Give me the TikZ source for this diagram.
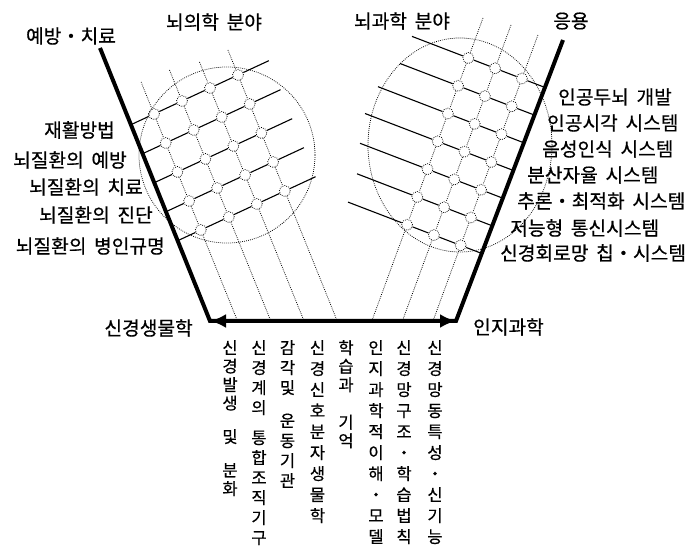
\documentclass[tikz,border=0pt]{standalone}
\usepackage{fontspec}
\newfontfamily\kr[FakeBold=0.6]{Noto Sans CJK KR}
\usetikzlibrary{arrows.meta,calc}
\newcommand\kvfont[1]{\kr\fontsize{16.5}{#1}\selectfont}
\newcommand\kdot{\makebox[1em][c]{・}}
\newcommand\ksp{\hspace{0.4em}}
\begin{document}
\begin{tikzpicture}[x=1pt,y=-1pt,
  bigline/.style={line width=4pt, line join=miter},
  gridline/.style={line width=1.1pt},
  dotline/.style={line width=0.75pt, dash pattern=on 0.8pt off 1.2pt},
  gnode/.style={circle, draw, line width=0.75pt, dash pattern=on 0.8pt off 1.2pt, fill=white, minimum size=11pt, inner sep=0pt},
  lab/.style={font=\kr\fontsize{19.2}{21}\selectfont, inner sep=0pt},
  vcol/.style={anchor=north, align=center, inner sep=0pt}]
\useasboundingbox (0,0) rectangle (691,553);

% ---- left lattice ----
\foreach \i in {0,...,3}{\foreach \j in {0,...,4}{
  \node[gnode] (L\i\j) at ($(154,114)+\i*(28,-13)+\j*(11.7,29)$) {};}}
\foreach \j in {0,...,4}{
  \coordinate (LS\j) at ($(130.9,124.7)+\j*(11.7,29)$);
  \coordinate (LE\j) at ($(268.8,60.7)+\j*(11.7,29)$);
  \draw[gridline] (LS\j) -- (L0\j) -- (L1\j) -- (L2\j) -- (L3\j) -- (LE\j);}
\coordinate (LT0) at (141.1,82); \coordinate (LT1) at (169.5,70);
\coordinate (LT2) at (199.5,62); \coordinate (LT3) at (227.9,50);
\coordinate (LB0) at (237.5,321); \coordinate (LB1) at (270.8,321);
\coordinate (LB2) at (304,321); \coordinate (LB3) at (337.2,321);
\foreach \i in {0,...,3}{
  \draw[dotline] (LT\i) -- (L\i0) -- (L\i1) -- (L\i2) -- (L\i3) -- (L\i4) -- (LB\i);}
\draw[dotline] (227,155) circle [radius=88pt];

% ---- right lattice ----
\foreach \i in {0,...,2}{\foreach \j in {0,...,6}{
  \node[gnode] (R\i\j) at ($(468.3,58)+\i*(26.8,10.3)+\j*(-10.2,27.8)$) {};}}
\coordinate (RS0) at (412,36.4);  \coordinate (RE0) at (544.8,87.4);
\coordinate (RS1) at (400,63.5);  \coordinate (RE1) at (534.2,115.0);
\coordinate (RS2) at (378,86.7);  \coordinate (RE2) at (523.6,142.7);
\coordinate (RS3) at (365,113.5); \coordinate (RE3) at (512.9,170.3);
\coordinate (RS4) at (360,143.3); \coordinate (RE4) at (502.3,198.0);
\coordinate (RS5) at (357,173.8); \coordinate (RE5) at (491.7,225.6);
\coordinate (RS6) at (348,202.1); \coordinate (RE6) at (481.1,253.2);
\foreach \j in {0,...,6}{
  \draw[gridline] (RS\j) -- (R0\j) -- (R1\j) -- (R2\j) -- (RE\j);}
\coordinate (RT0) at (483,18); \coordinate (RT1) at (511,25); \coordinate (RT2) at (537.9,35);
\coordinate (RB0) at (371.8,321); \coordinate (RB1) at (402.4,321); \coordinate (RB2) at (433,321);
\foreach \i in {0,...,2}{
  \draw[dotline] (RT\i) -- (R\i0) -- (R\i1) -- (R\i2) -- (R\i3) -- (R\i4) -- (R\i5) -- (R\i6) -- (RB\i);}
\draw[dotline] (460,145) ellipse [x radius=92pt, y radius=107pt];

% ---- thick frame ----
\coordinate (TL) at (100,48); \coordinate (BL) at (210,321);
\coordinate (BR) at (456,321); \coordinate (TR) at (563,40);
\draw[bigline] (TL) -- (BL) -- (BR) -- (TR);
\draw[bigline, {Latex[length=16pt,width=14pt]}-{Latex[length=16pt,width=14pt]}] (BL) -- (BR);

% ---- top labels ----
\node[lab] (t1) at (71,36) {예방\kdot 치료};
\node[lab] (t2) at (214,22) {뇌의학\ksp 분야};
\node[lab] (t3) at (402,21) {뇌과학\ksp 분야};
\node[lab] (t4) at (571,21) {응용};

% ---- left labels ----
\node[lab, anchor=east] (l1) at (115,130) {재활방법};
\node[lab, anchor=east] (l2) at (127,160) {뇌질환의\ksp 예방};
\node[lab, anchor=east] (l3) at (143,187) {뇌질환의\ksp 치료};
\node[lab, anchor=east] (l4) at (153,215) {뇌질환의\ksp 진단};
\node[lab, anchor=east] (l5) at (165,246) {뇌질환의\ksp 병인규명};

% ---- right labels ----
\node[lab, anchor=west] (r1) at (558,97) {인공두뇌\ksp 개발};
\node[lab, anchor=west] (r2) at (547,123) {인공시각\ksp 시스템};
\node[lab, anchor=west] (r3) at (542,149) {음성인식\ksp 시스템};
\node[lab, anchor=west] (r4) at (527,175) {분산자율\ksp 시스템};
\node[lab, anchor=west] (r5) at (517,201) {추론\kdot 최적화\ksp 시스템};
\node[lab, anchor=west] (r6) at (510,228) {저능형\ksp 통신시스템};
\node[lab, anchor=west] (r7) at (500,253) {신경회로망\ksp 칩\kdot 시스템};

% ---- bottom labels ----
\node[lab, anchor=east] (b1) at (193,328) {신경생물학};
\node[lab, anchor=west] (b2) at (473,327) {인지과학};

\node[vcol, font=\kvfont{18.5}] (c1) at (230,340) {신\\경\\발\\생\\[15pt]및\\[15pt]분\\화};
\node[vcol, font=\kvfont{20}] (c2) at (259,340) {신\\경\\계\\의\\[10pt]통\\합\\조\\직\\기\\구};
\node[vcol, font=\kvfont{20}] (c3) at (287.5,340) {감\\각\\및\\[13pt]운\\동\\기\\관};
\node[vcol, font=\kvfont{21}] (c4) at (317.5,340) {신\\경\\신\\호\\분\\자\\생\\물\\학};
\node[vcol, font=\kvfont{18.5}] (c5) at (346,340) {학\\습\\과\\[19pt]기\\억};
\node[vcol, font=\kvfont{21}] (c6) at (376,340) {인\\지\\과\\학\\적\\이\\해\\・\\모\\델};
\node[vcol, font=\kvfont{21}] (c7) at (404,340) {신\\경\\망\\구\\조\\・\\학\\습\\법\\칙};
\node[vcol, font=\kvfont{21}] (c8) at (435,340) {신\\경\\망\\동\\특\\성\\・\\신\\기\\능};
\end{tikzpicture}
\end{document}
